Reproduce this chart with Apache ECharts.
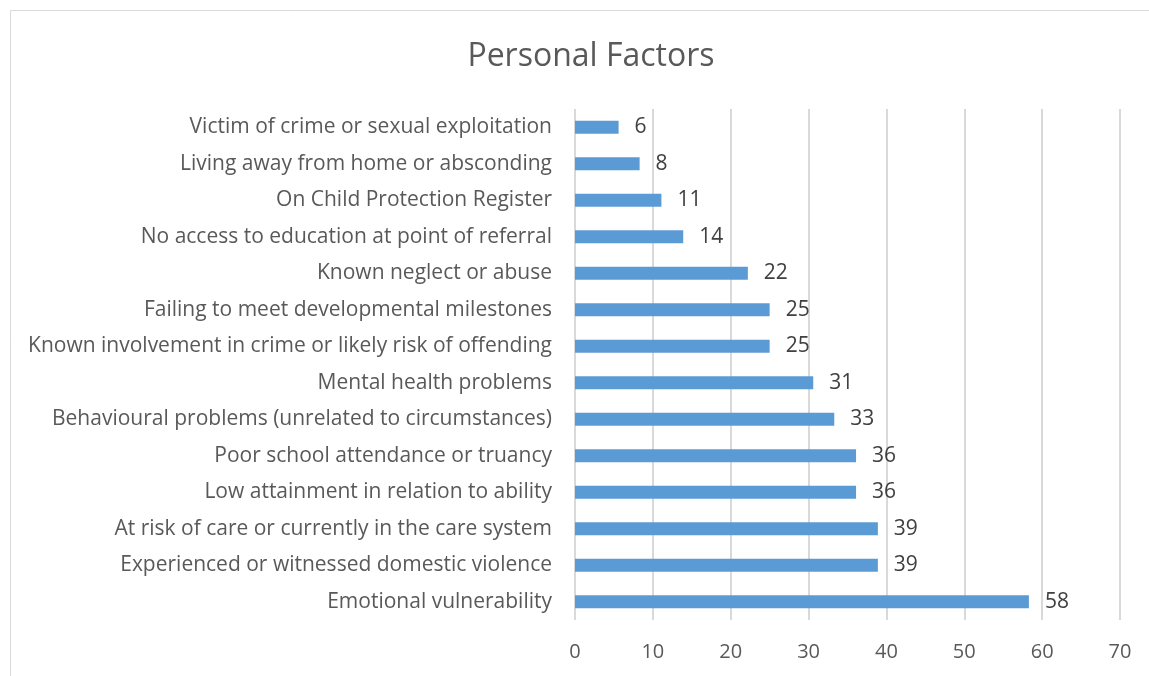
<!DOCTYPE html>
<html>
<head>
<meta charset="utf-8">
<script src="https://cdn.jsdelivr.net/npm/echarts@6/dist/echarts.min.js"></script>
<style>
  html, body { margin: 0; padding: 0; background: #fff; }
  #chart { width: 1149px; height: 676px; }
</style>
</head>
<body>
<div id="chart"></div>
<script>
// categories, top to bottom as in the picture
const factors = [
  'Victim of crime or sexual exploitation',
  'Living away from home or absconding',
  'On Child Protection Register',
  'No access to education at point of referral',
  'Known neglect or abuse',
  'Failing to meet developmental milestones',
  'Known involvement in crime or likely risk of offending',
  'Mental health problems',
  'Behavioural problems (unrelated to circumstances)',
  'Poor school attendance or truancy',
  'Low attainment in relation to ability',
  'At risk of care or currently in the care system',
  'Experienced or witnessed domestic violence',
  'Emotional vulnerability'
];
// bar lengths (labels show them rounded)
const values = [5.6, 8.3, 11.1, 13.9, 22.2, 25.0, 25.0, 30.6, 33.3, 36.1, 36.1, 38.9, 38.9, 58.3];
const xTicks = [0, 10, 20, 30, 40, 50, 60, 70];

const chart = echarts.init(document.getElementById('chart'));
const font = '"Open Sans", Lato, sans-serif';

chart.setOption({
  animation: false,
  title: {
    text: 'Personal Factors',
    left: 586,
    textAlign: 'center',
    top: 36,
    textStyle: { fontFamily: font, fontSize: 32, fontWeight: 'normal', color: '#595959' }
  },
  graphic: [{
    type: 'rect',
    shape: { x: 10.5, y: 10.5, width: 1200, height: 800 },
    style: { fill: 'none', stroke: '#d9d9d9', lineWidth: 1 },
    silent: true
  }],
  grid: { left: 575, right: 29, top: 109, bottom: 56 },
  xAxis: {
    type: 'value',
    min: xTicks[0],
    max: xTicks[xTicks.length - 1],
    interval: 10,
    axisLine: { show: false },
    axisTick: { show: false },
    splitLine: { lineStyle: { color: '#d9d9d9', width: 2 } },
    axisLabel: { fontFamily: font, fontSize: 20, color: '#595959', margin: 22 }
  },
  yAxis: {
    type: 'category',
    inverse: true,
    data: factors,
    axisLine: { show: false },
    axisTick: { show: false },
    axisLabel: { fontFamily: font, fontSize: 21, color: '#595959', margin: 23, padding: [2, 0, 0, 0] }
  },
  series: [{
    type: 'bar',
    data: values,
    barWidth: 13,
    itemStyle: { color: '#5b9bd5' },
    label: {
      show: true,
      position: 'right',
      distance: 16,
      padding: [3, 0, 0, 0],
      fontFamily: font,
      fontSize: 21,
      color: '#404040',
      formatter: p => Math.round(p.value)
    }
  }]
});
</script>
</body>
</html>
